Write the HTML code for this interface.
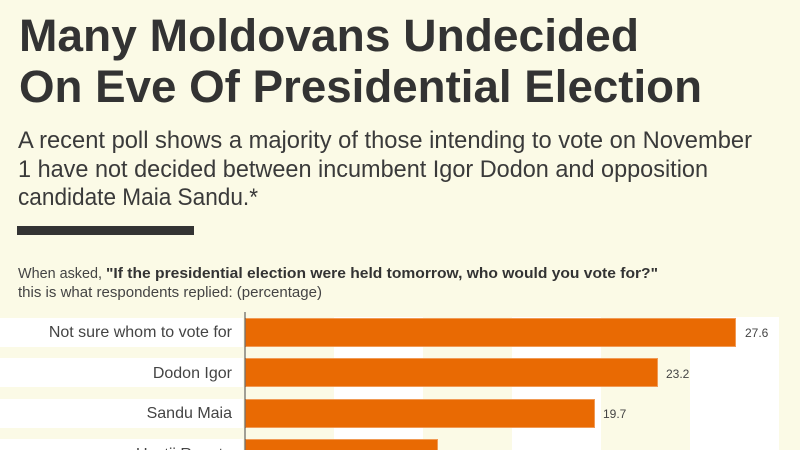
<!DOCTYPE html>
<html><head><meta charset="utf-8"><style>
html,body{margin:0;padding:0;background:#fbfae6;}
svg{display:block;}
</style></head><body>
<svg width="800" height="450" viewBox="0 0 800 450" xmlns="http://www.w3.org/2000/svg" font-family="Liberation Sans, sans-serif">
<rect width="800" height="450" fill="#fbfae6"/>
<text x="19" y="51" font-size="45" font-weight="bold" fill="#333" textLength="620" lengthAdjust="spacingAndGlyphs">Many Moldovans Undecided</text>
<text x="19" y="102" font-size="45" font-weight="bold" fill="#333" textLength="683" lengthAdjust="spacingAndGlyphs">On Eve Of Presidential Election</text>
<g font-size="24" fill="#3a3a3a">
<text x="18" y="148" textLength="734" lengthAdjust="spacingAndGlyphs">A recent poll shows a majority of those intending to vote on November</text>
<text x="18" y="177" textLength="690" lengthAdjust="spacingAndGlyphs">1 have not decided between incumbent Igor Dodon and opposition</text>
<text x="18" y="205" textLength="240" lengthAdjust="spacingAndGlyphs">candidate Maia Sandu.*</text>
</g>
<rect x="17" y="226" width="177" height="9" fill="#333"/>
<text x="18" y="278" font-size="15" fill="#444"><tspan textLength="84" lengthAdjust="spacingAndGlyphs">When asked,</tspan><tspan x="106" font-weight="bold" fill="#333" textLength="552" lengthAdjust="spacingAndGlyphs">"If the presidential election were held tomorrow, who would you vote for?"</tspan></text>
<text x="18" y="297" font-size="15" fill="#444" textLength="304" lengthAdjust="spacingAndGlyphs">this is what respondents replied: (percentage)</text>
<!-- stripes -->
<rect x="334" y="317" width="89" height="133" fill="#ffffff"/>
<rect x="512" y="317" width="89" height="133" fill="#ffffff"/>
<rect x="690" y="317" width="89" height="133" fill="#ffffff"/>
<!-- row label backgrounds -->
<rect x="0" y="318" width="243" height="29" fill="#fff"/>
<rect x="0" y="358" width="243" height="29" fill="#fff"/>
<rect x="0" y="399" width="243" height="29" fill="#fff"/>
<rect x="0" y="439" width="243" height="29" fill="#fff"/>
<!-- bars -->
<g fill="#e96a03" stroke="#f19a55" stroke-width="1">
<rect x="245.5" y="318.5" width="490" height="28"/>
<rect x="245.5" y="358.5" width="412" height="28"/>
<rect x="245.5" y="399.5" width="349" height="28"/>
<rect x="245.5" y="439.5" width="192" height="28"/>
</g>
<line x1="245" y1="312" x2="245" y2="450" stroke="#444" stroke-width="1"/>
<g font-size="16" fill="#444" text-anchor="end">
<text x="232" y="337">Not sure whom to vote for</text>
<text x="232" y="378">Dodon Igor</text>
<text x="232" y="418">Sandu Maia</text>
<text x="232" y="459">Usatii Renato</text>
</g>
<g font-size="12" fill="#444">
<text x="745" y="337">27.6</text>
<text x="666" y="378">23.2</text>
<text x="603" y="418">19.7</text>
</g>
</svg>
</body></html>
